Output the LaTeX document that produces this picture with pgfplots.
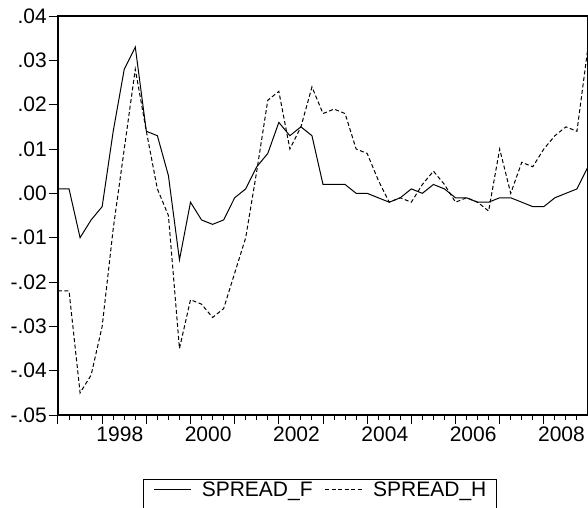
\documentclass[border=0pt]{standalone}
\usepackage{pgfplots}
\pgfplotsset{compat=1.18}
\usepackage{pgfplotstable}
\usepackage{fontspec}
\setmainfont{Liberation Sans}

% quarterly observations, index 0 = first quarter of the sample
\pgfplotstableread{
k  F       H
0  0.001  -0.022
1  0.001  -0.022
2  -0.010 -0.045
3  -0.006 -0.041
4  -0.003 -0.030
5  0.014  -0.008
6  0.028   0.010
7  0.033   0.028
8  0.014   0.014
9  0.013   0.001
10 0.004  -0.005
11 -0.015 -0.035
12 -0.002 -0.024
13 -0.006 -0.025
14 -0.007 -0.028
15 -0.006 -0.026
16 -0.001 -0.018
17 0.001  -0.010
18 0.006   0.005
19 0.009   0.021
20 0.016   0.023
21 0.013   0.010
22 0.015   0.015
23 0.013   0.024
24 0.002   0.018
25 0.002   0.019
26 0.002   0.018
27 0.000   0.010
28 0.000   0.009
29 -0.001  0.003
30 -0.002 -0.002
31 -0.001 -0.001
32 0.001  -0.002
33 0.000   0.002
34 0.002   0.005
35 0.001   0.002
36 -0.001 -0.002
37 -0.001 -0.001
38 -0.002 -0.002
39 -0.002 -0.004
40 -0.001  0.010
41 -0.001  0.000
42 -0.002  0.007
43 -0.003  0.006
44 -0.003  0.010
45 -0.001  0.013
46 0.000   0.015
47 0.001   0.014
48 0.006   0.033
}\spread

\begin{document}
\begin{tikzpicture}[font=\fontsize{21}{25}\selectfont]
\begin{axis}[
  scale only axis,
  width=530pt, height=399pt,
  xmin=0, xmax=48,
  ymin=-0.05, ymax=0.04,
  scaled y ticks=false,
  axis line style={line width=1.2pt},
  tick align=outside,
  xtick pos=lower, ytick pos=left,
  tick style={black, line width=1pt},
  major tick length=9pt,
  minor tick length=5pt,
  xtick={0,4,...,48},
  xticklabels={},
  minor xtick={0,1,...,48},
  extra x ticks={5.6,13.6,21.6,29.6,37.6,45.6},
  extra x tick labels={1998,2000,2002,2004,2006,2008},
  extra x tick style={major tick length=0pt,
    tick label style={yshift=-8pt}},
  ytick={-0.05,-0.04,...,0.04},
  yticklabels={-.05,-.04,-.03,-.02,-.01,.00,.01,.02,.03,.04},
  yticklabel style={inner xsep=2pt},
  legend columns=2,
  legend style={at={(0.494,-0.161)}, anchor=north, name=leg,
    draw=none, inner xsep=10pt, inner ysep=2pt,
    /tikz/every odd column/.append style={column sep=10.5pt},
    /tikz/every even column/.append style={column sep=12pt},
    nodes={inner xsep=0pt, inner ysep=0pt}},
  legend image code/.code={\draw[#1, line width=1pt] (0pt,0pt) -- (37pt,0pt);},
]
\addplot[black, line width=1pt] table[x=k, y=F] {\spread};
\addlegendentry{SPREAD\_F}
\addplot[black, line width=1pt, dash pattern=on 4pt off 2.5pt] table[x=k, y=H] {\spread};
\addlegendentry{SPREAD\_H}
\end{axis}
% legend frame, running on past the lower edge of the page
\draw[line width=0.9pt] (leg.north west) rectangle ([yshift=-25pt]leg.south east);
\pgfresetboundingbox
\useasboundingbox (-58pt,-92pt) rectangle (530pt,415pt);
\end{tikzpicture}
\end{document}
